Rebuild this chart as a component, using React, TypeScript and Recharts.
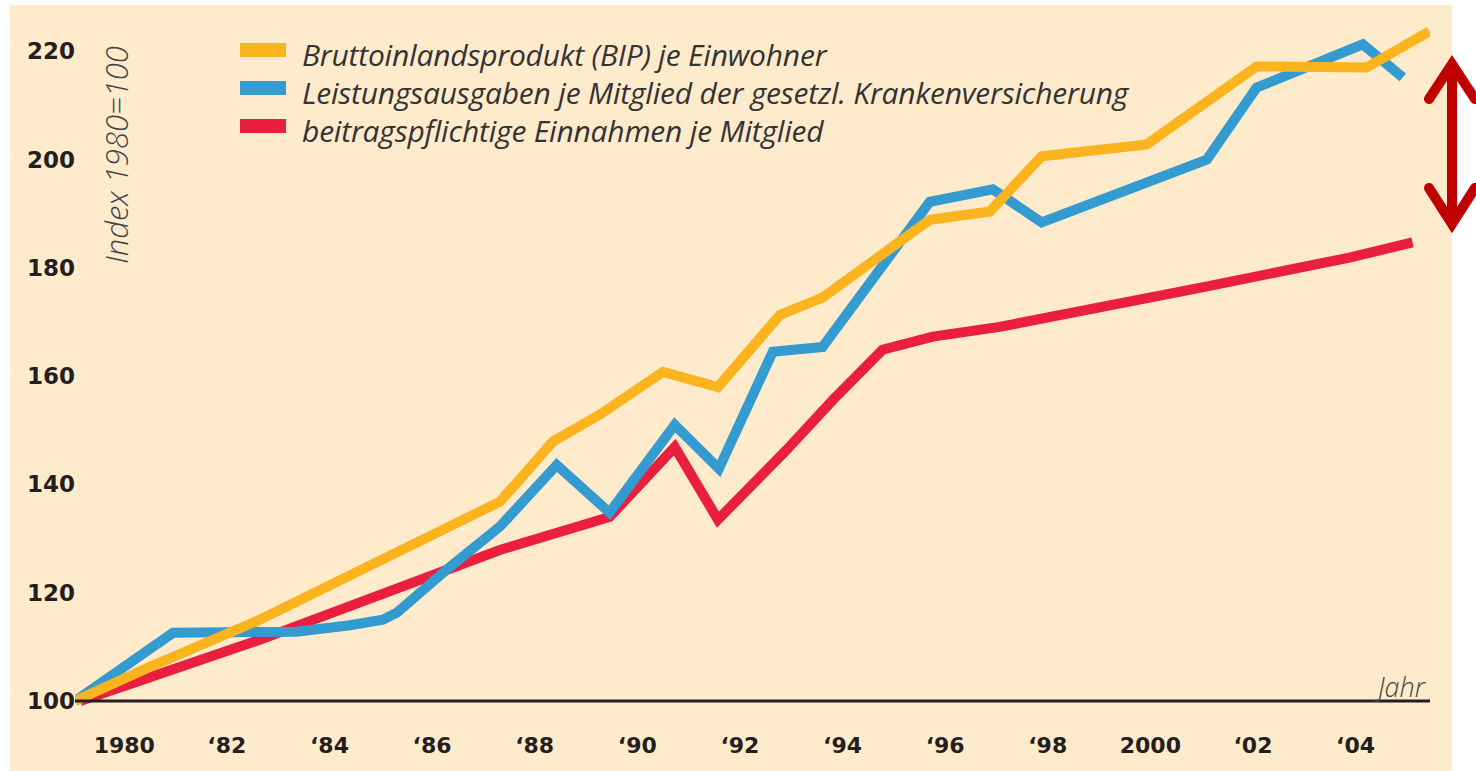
import React from 'react';
import { LineChart, Line, XAxis, YAxis, Legend } from 'recharts';

// Index 1980 = 100 (irregular spacing)
const bipYears = [1979.04, 1980.5, 1982.64, 1987.32, 1987.65, 1988.35, 1989.27, 1990.5, 1991.57, 1992.78, 1993.61, 1995.7, 1996.87, 1997.88, 1999.93, 2002.07, 2004.21, 2005.44];
const bipValues = [100, 106.3, 115.0, 136.8, 140.3, 147.9, 152.9, 160.8, 158.0, 171.3, 174.5, 188.9, 190.4, 200.6, 202.8, 217.2, 217.0, 223.7];

const gkvYears = [1979.04, 1980.95, 1983.36, 1984.4, 1985.04, 1985.31, 1986.35, 1987.32, 1988.43, 1989.46, 1990.73, 1991.59, 1992.64, 1993.61, 1995.7, 1996.93, 1997.88, 2001.1, 2002.07, 2004.14, 2004.92];
const gkvValues = [100, 112.6, 112.8, 114.0, 115.0, 116.3, 124.8, 132.2, 143.6, 134.8, 151.0, 142.9, 164.5, 165.4, 192.2, 194.5, 188.4, 200.0, 213.3, 221.3, 215.2];

const einnYears = [1979.14, 1980.5, 1982.64, 1987.32, 1989.46, 1990.73, 1991.57, 1992.91, 1993.81, 1994.78, 1995.76, 1997.06, 2000.96, 2003.88, 2005.11];
const einnValues = [100, 104.4, 111.3, 127.9, 134.0, 146.9, 133.5, 146.4, 155.6, 164.9, 167.3, 169.1, 176.3, 181.9, 184.7];

const xTicks = [1980, 1982, 1984, 1986, 1988, 1990, 1992, 1994, 1996, 1998, 2000, 2002, 2004];
const xTickLabels = ['1980', '\u201882', '\u201884', '\u201886', '\u201888', '\u201890', '\u201892', '\u201894', '\u201896', '\u201898', '2000', '\u201802', '\u201804'];
const yTicks = [100, 120, 140, 160, 180, 200, 220];

const seriesNames = [
  'Bruttoinlandsprodukt (BIP) je Einwohner',
  'Leistungsausgaben je Mitglied der gesetzl. Krankenversicherung',
  'beitragspflichtige Einnahmen je Mitglied',
];
const seriesColors = ['#FBB41E', '#349BD0', '#EA1F40'];

const toRows = (years: number[], values: number[]) => years.map((year, i) => ({ year, value: values[i] }));

const bipData = toRows(bipYears, bipValues);
const gkvData = toRows(gkvYears, gkvValues);
const einnData = toRows(einnYears, einnValues);

const XTick = (props: any) => {
  const { x, y, payload } = props;
  const label = xTickLabels[xTicks.indexOf(payload.value)];
  return (
    <text x={x} y={y} dy={52} textAnchor="middle" fontFamily="DejaVu Sans" fontWeight="bold" fontSize={22} fill="#231f20">
      {label}
    </text>
  );
};

const YTick = (props: any) => {
  const { x, y, payload } = props;
  return (
    <text x={x} y={y} dy={8} textAnchor="end" fontFamily="DejaVu Sans" fontWeight="bold" fontSize={23} fill="#231f20">
      {payload.value}
    </text>
  );
};

const renderLegend = () => (
  <div style={{ fontFamily: 'Open Sans', fontStyle: 'italic', fontSize: 30, color: '#333' }}>
    {seriesNames.map((name, i) => (
      <div key={name} style={{ display: 'flex', alignItems: 'center', height: 38, whiteSpace: 'nowrap' }}>
        <span style={{ display: 'inline-block', width: 46, height: 14, background: seriesColors[i], marginRight: 16 }} />
        <span style={{ lineHeight: '38px', position: 'relative', top: 5, letterSpacing: -0.2 }}>{name}</span>
      </div>
    ))}
  </div>
);

export default function App() {
  return (
    <div style={{ position: 'absolute', left: 0, top: 0, width: 1476, height: 771, background: '#fff', overflow: 'hidden' }}>
      <div style={{ position: 'absolute', left: 10, top: 5, width: 1442, height: 766, background: '#FEEBCC' }} />
      <div style={{ position: 'absolute', left: 0, top: 0 }}>
        <LineChart width={1476} height={771} margin={{ top: 8, right: 46, left: 0, bottom: 20 }}>
          <XAxis
            dataKey="year"
            type="number"
            domain={[1979.04, 2005.45]}
            allowDataOverflow
            ticks={xTicks}
            tick={<XTick />}
            tickLine={false}
            tickSize={0}
            tickMargin={0}
            height={50}
            axisLine={{ stroke: '#231f20', strokeWidth: 3 }}
          />
          <YAxis
            type="number"
            domain={[100, 228]}
            ticks={yTicks}
            tick={<YTick />}
            tickLine={false}
            tickSize={0}
            tickMargin={0}
            axisLine={false}
            width={75}
          />
          <Legend
            layout="vertical"
            align="center"
            verticalAlign="middle"
            content={renderLegend}
            wrapperStyle={{ left: 240, top: 31, width: 'auto' }}
          />
          <Line data={einnData} dataKey="value" name={seriesNames[2]} stroke={seriesColors[2]} strokeWidth={10} dot={false} type="linear" isAnimationActive={false} />
          <Line data={gkvData} dataKey="value" name={seriesNames[1]} stroke={seriesColors[1]} strokeWidth={10} dot={false} type="linear" isAnimationActive={false} />
          <Line data={bipData} dataKey="value" name={seriesNames[0]} stroke={seriesColors[0]} strokeWidth={10} dot={false} type="linear" isAnimationActive={false} />
        </LineChart>
      </div>
      <svg width={1476} height={771} style={{ position: 'absolute', left: 0, top: 0, pointerEvents: 'none' }}>
        <text transform="translate(128,155) rotate(-90)" textAnchor="middle" fontFamily="Open Sans" fontStyle="italic" fontWeight={300} fontSize={31} fill="#444">
          Index 1980=100
        </text>
        <text x={1425} y={697} textAnchor="end" fontFamily="Open Sans" fontStyle="italic" fontWeight={300} fontSize={27} fill="#444">
          Jahr
        </text>
        <g stroke="#C00000" strokeWidth={10} fill="none" strokeLinecap="round" strokeLinejoin="miter">
          <line x1={1452} y1={66} x2={1452} y2={222} strokeLinecap="butt" />
          <polyline points="1429,99 1452,64 1475,99" />
          <polyline points="1429,188 1452,224 1475,188" />
        </g>
      </svg>
    </div>
  );
}
